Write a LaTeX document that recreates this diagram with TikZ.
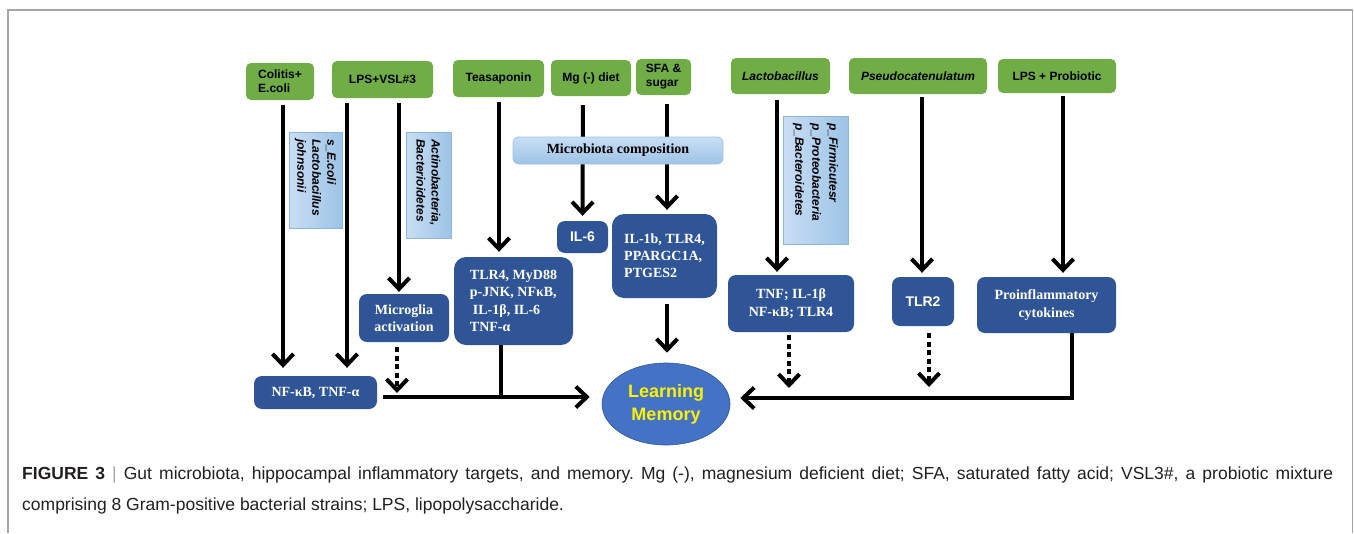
\documentclass[tikz,border=0pt]{standalone}
\usepackage{fontspec}
\setmainfont{Liberation Serif}
\setsansfont{Liberation Sans}
\usetikzlibrary{arrows.meta,shapes.geometric}

\definecolor{leafgreen}{HTML}{70AD47}
\definecolor{navy}{HTML}{2F5597}
\definecolor{paleblue}{HTML}{9DC3E6}
\definecolor{paleblueB}{HTML}{C9DEF4}
\definecolor{paleedge}{HTML}{8DB4E2}
\definecolor{oval}{HTML}{4472C4}
\definecolor{ovaledge}{HTML}{2F5597}
\definecolor{framegray}{HTML}{A6A6A6}
\definecolor{captext}{HTML}{231F20}

\pgfdeclarelayer{wires}
\pgfsetlayers{wires,main}

\tikzset{
  src/.style={fill=leafgreen, rounded corners=5pt, inner sep=0pt, text=black,
    font=\sffamily\bfseries\fontsize{12}{14}\selectfont},
  srcit/.style={src, font=\sffamily\bfseries\itshape\fontsize{12}{14}\selectfont},
  taxa/.style={rotate=-90, draw=paleedge, line width=0.8pt,
    left color=paleblueB, right color=paleblue, align=left,
    inner xsep=7pt, inner ysep=0pt,
    font=\sffamily\bfseries\itshape\fontsize{12}{15}\selectfont},
  comp/.style={draw=paleblue, line width=0.8pt, rounded corners=6pt,
    top color=paleblueB, bottom color=paleblue, inner sep=0pt,
    font=\rmfamily\bfseries\fontsize{14}{17}\selectfont},
  cell/.style={fill=navy, rounded corners=8pt, inner sep=0pt, text=white,
    align=center, font=\rmfamily\bfseries\fontsize{14}{17.5}\selectfont},
  cellsans/.style={cell, font=\sffamily\bfseries\fontsize{14}{17}\selectfont},
  memo/.style={ellipse, fill=oval, draw=ovaledge, line width=0.6pt, inner sep=0pt,
    text=yellow, align=center, font=\sffamily\bfseries\fontsize{18}{23}\selectfont},
  wire/.style={line width=4pt},
  arr/.style={wire, -{Straight Barb[length=11pt,width=21pt]}},
  dotarr/.style={arr, dash pattern=on 5pt off 3.5pt},
  captionline/.style={anchor=base west, inner sep=0pt, text=captext,
    font=\sffamily\fontsize{17.5}{21}\selectfont},
}

\begin{document}
\frenchspacing
\begin{tikzpicture}[x=1pt,y=-1pt]
\useasboundingbox (0,0) rectangle (1354,533);

% figure frame, open at the bottom
\draw[framegray, line width=1.2pt] (8,533) -- (8,10) -- (1352.5,10) -- (1352.5,533);

% treatments (top row)
\node[src, minimum width=68, minimum height=37, align=left] (g1) at (280,81.5) {Colitis+\\E.coli};
\node[src, minimum width=101, minimum height=37] (g2) at (382.5,79.5) {LPS+VSL\#3};
\node[src, minimum width=91, minimum height=37] (g3) at (498.5,78.5) {Teasaponin};
\node[src, minimum width=80, minimum height=36] (g4) at (591,78) {Mg (-) diet};
\node[src, minimum width=55, minimum height=36, align=left] (g5) at (663.5,77) {SFA \&\\sugar};
\node[srcit, minimum width=99, minimum height=36] (g6) at (780.5,76) {Lactobacillus};
\node[srcit, minimum width=138, minimum height=36] (g7) at (918,76) {Pseudocatenulatum};
\node[src, minimum width=118, minimum height=34] (g8) at (1057,76) {LPS + Probiotic};

% taxa labels, set vertically
\node[taxa, minimum width=96, minimum height=53, text width=82] (t1) at (315.5,180)
  {s\_E.coli\\Lactobacillus\\johnsonii};
\node[taxa, minimum width=106, minimum height=45, text width=92] (t2) at (428.5,185)
  {Actinobacteria,\\Bacterioidetes};
\node[taxa, minimum width=128, minimum height=65, text width=114,
  font=\sffamily\bfseries\itshape\fontsize{12}{17}\selectfont] (t3) at (815.5,180)
  {p\_Firmicutesr\\p\_Proteobacteria\\p\_Bacteroidetes};

% inflammatory targets
\node[cell, minimum width=123, minimum height=33] (b1) at (315.5,392.5) {NF-κB, TNF-α};
\node[cell, minimum width=90, minimum height=48] (b2) at (404,318) {Microglia\\activation};
\node[cell, rounded corners=12pt, minimum width=119, minimum height=88, align=left] (b3) at (513.5,301)
  {TLR4, MyD88\\p-JNK, NFκB,\\\hspace*{3pt}IL-1β, IL-6\\TNF-α};
\node[cellsans, minimum width=51, minimum height=32] (b4) at (582.5,237) {IL-6};
\node[cell, rounded corners=12pt, minimum width=105, minimum height=84, align=left,
  font=\rmfamily\bfseries\fontsize{14}{17}\selectfont] (b5) at (664.5,256)
  {IL-1b, TLR4,\\PPARGC1A,\\PTGES2};
\node[cell, minimum width=126, minimum height=57] (b6) at (791,303.5) {TNF; IL-1β\\NF-κB; TLR4};
\node[cellsans, minimum width=62, minimum height=49] (b7) at (923,301.5) {TLR2};
\node[cell, minimum width=139, minimum height=56] (b8) at (1046.5,305) {Proinflammatory\\cytokines};

% outcome
\node[memo, minimum width=128, minimum height=82] (mem) at (666,404) {Learning\\Memory};

% junction points on the two collecting lines
\coordinate (jL) at (383,397);
\coordinate (jM) at (397,397);
\coordinate (jA) at (501,397);
\coordinate (jR) at (789,398);
\coordinate (jS) at (929,398);

\begin{pgfonlayer}{wires}
  \draw[arr, shorten <=5pt, shorten >=8pt] ([xshift=3pt]g1.south) -- ([xshift=-32.5pt]b1.north);
  \draw[arr, shorten <=5pt, shorten >=8pt] ([xshift=-35.5pt]g2.south) -- ([xshift=31.5pt]b1.north);
  \draw[arr, shorten <=5pt, shorten >=2pt] ([xshift=16.5pt]g2.south) -- ([xshift=-5pt]b2.north);
  \draw[arr, shorten <=5pt, shorten >=5pt] ([xshift=0.5pt]g3.south) -- ([xshift=-14.5pt]b3.north);
  \draw[arr, shorten <=9pt, shorten >=5pt] ([xshift=-8pt]g4.south) -- (b4.north);
  \draw[arr, shorten <=9pt, shorten >=4pt] ([xshift=3.5pt]g5.south) -- ([xshift=2.5pt]b5.north);
  \draw[arr, shorten <=6pt, shorten >=3pt] ([xshift=-3.5pt]g6.south) -- ([xshift=-14pt]b6.north);
  \draw[arr, shorten <=3pt, shorten >=4pt] ([xshift=4pt]g7.south) -- ([xshift=-1pt]b7.north);
  \draw[arr, shorten <=3pt, shorten >=4pt] ([xshift=6pt]g8.south) -- ([xshift=16.5pt]b8.north);
  \draw[arr, shorten <=6pt, shorten >=10pt] ([xshift=2.5pt]b5.south) -- ([xshift=1pt]mem.north);

  % left collecting line
  \draw[arr, shorten >=12pt] (jL) -- (mem.west |- jL);
  \draw[wire] ([xshift=-12.5pt]b3.south) -- (jA);
  \draw[dotarr, shorten <=5pt, shorten >=4pt] ([xshift=-7pt]b2.south) -- (jM);

  % right collecting line
  \draw[arr, shorten >=10pt] ([xshift=25.5pt]b8.south) |- (mem.east |- jR);
  \draw[dotarr, shorten <=3pt, shorten >=10pt] ([xshift=-2pt]b6.south) -- (jR);
  \draw[dotarr, shorten <=7pt, shorten >=11pt] ([xshift=6pt]b7.south) -- (jS);
\end{pgfonlayer}

\node[comp, minimum width=210, minimum height=27] (mc) at (618,150.5) {Microbiota composition};

% caption
\node[captionline] (cap1) at (22,479)
  {\makebox[1311pt][s]{\textbf{FIGURE 3} \textcolor{framegray}{|} Gut microbiota, hippocampal inflammatory targets, and memory. Mg (-), magnesium deficient diet; SFA, saturated fatty acid; VSL3\#, a probiotic mixture}};
\node[captionline] (cap2) at (22,510)
  {comprising 8 Gram-positive bacterial strains; LPS, lipopolysaccharide.};
\end{tikzpicture}
\end{document}
